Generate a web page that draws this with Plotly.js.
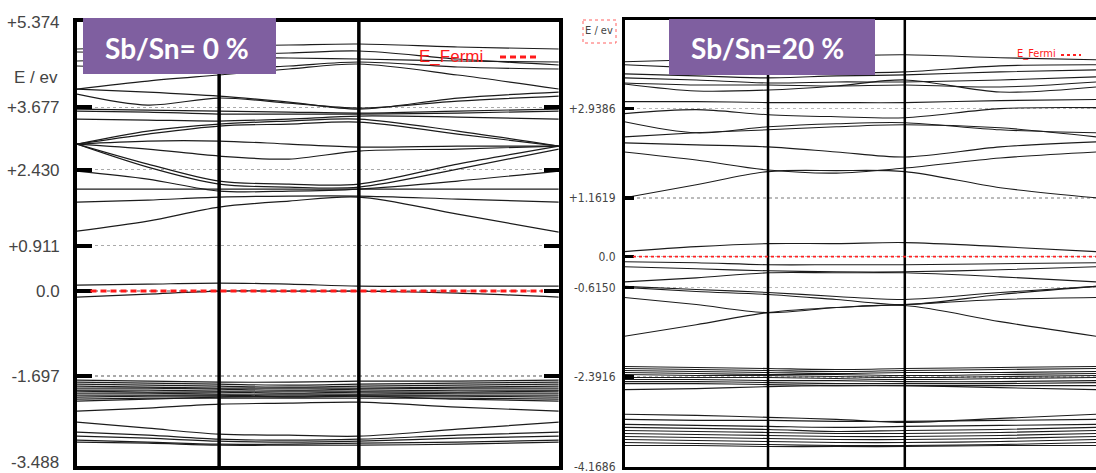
<!DOCTYPE html>
<html><head><meta charset="utf-8">
<script src="https://cdn.plot.ly/plotly-3.0.1.min.js"></script>
<style>html,body{margin:0;padding:0;background:#fff;overflow:hidden}#chart{width:1096px;height:473px}</style>
</head><body><div id="chart"></div>
<script>
// k-path sample positions (fraction of path length)
const kLeft  = [0, 0.147, 0.295, 0.44, 0.585, 0.79, 1.0];
const kRight = [0, 0.149, 0.298, 0.44, 0.582, 0.78, 0.979];
const kNodesLeft  = [0.295, 0.585];
const kNodesRight = [0.298, 0.582];

// axis ticks (bottom-left label drawn as annotation so it stays inside the picture)
const leftTickVals  = [5.374, 3.677, 2.430, 0.911, 0.0, -1.697, -3.488];
const leftTickText  = ["+5.374", "+3.677", "+2.430", "+0.911", "0.0", "-1.697", "-3.488"];
const rightTickVals = [2.9386, 1.1619, 0.0, -0.6150, -2.3916, -4.1686];
const rightTickText = ["+2.9386", "+1.1619", "0.0", "-0.6150", "-2.3916", "-4.1686"];

// panel labels
const panelLabels = ["Sb/Sn= 0 %", "Sb/Sn=20 %"];
const axisLabel = "E / ev";
const fermiLabel = "E_Fermi";

// ---- Sb/Sn = 0 % bands (eV) ----
const leftConduction = [
  [4.84, 4.88, 4.90, 4.92, 4.94, 4.88, 4.84],
  [4.78, 4.76, 4.74, 4.76, 4.80, 4.64, 4.52],
  [4.60, 4.64, 4.68, 4.66, 4.64, 4.60, 4.58],
  [4.50, 4.46, 4.44, 4.50, 4.58, 4.48, 4.44],
  [4.04, 4.20, 4.32, 4.44, 4.54, 4.32, 4.04],
  [4.04, 3.98, 3.90, 3.78, 3.64, 3.86, 3.98],
  [3.94, 3.72, 3.86, 3.76, 3.66, 3.80, 3.90],
  [3.64, 3.62, 3.60, 3.58, 3.56, 3.60, 3.64],
  [3.60, 3.58, 3.54, 3.54, 3.54, 3.56, 3.60],
  [3.44, 3.42, 3.40, 3.44, 3.50, 3.48, 3.44],
  [2.94, 3.20, 3.34, 3.40, 3.44, 3.20, 2.90],
  [2.94, 3.14, 3.30, 3.34, 3.38, 3.14, 2.90],
  [2.94, 3.00, 3.00, 2.94, 2.88, 2.90, 2.90],
  [2.94, 2.84, 2.70, 2.64, 2.80, 2.84, 2.90],
  [2.94, 2.54, 2.20, 2.14, 2.14, 2.54, 2.90],
  [2.94, 2.48, 2.14, 2.08, 2.08, 2.44, 2.84],
  [2.04, 2.04, 2.04, 2.04, 2.04, 2.04, 2.04],
  [2.40, 2.24, 2.00, 2.00, 2.04, 2.20, 2.40],
  [1.78, 1.82, 1.88, 1.90, 1.90, 1.84, 1.78],
  [1.20, 1.40, 1.68, 1.80, 1.88, 1.54, 1.18]
];
const leftNearFermi = [
  [0.12, 0.14, 0.16, 0.14, 0.10, 0.10, 0.10],
  [-0.12, -0.06, 0.00, 0.00, 0.00, -0.04, -0.12]
];
const leftValenceDense = [
  [-1.78, -1.80, -1.82, -1.82, -1.80, -1.80, -1.78],
  [-1.82, -1.84, -1.86, -1.88, -1.86, -1.84, -1.82],
  [-1.86, -1.88, -1.90, -1.92, -1.90, -1.88, -1.86],
  [-1.90, -1.92, -1.94, -1.94, -1.94, -1.92, -1.90],
  [-1.94, -1.94, -1.96, -1.98, -1.96, -1.94, -1.94],
  [-1.98, -1.98, -2.00, -2.00, -2.00, -1.98, -1.98],
  [-2.00, -2.02, -2.02, -2.04, -2.02, -2.02, -2.00],
  [-2.04, -2.04, -2.06, -2.06, -2.06, -2.04, -2.04],
  [-2.08, -2.08, -2.08, -2.10, -2.08, -2.08, -2.08],
  [-2.12, -2.10, -2.10, -2.12, -2.10, -2.10, -2.12],
  [-2.16, -2.14, -2.14, -2.14, -2.14, -2.14, -2.16],
  [-2.20, -2.16, -2.12, -2.10, -2.10, -2.16, -2.20]
];
const leftValenceLow = [
  [-2.40, -2.34, -2.26, -2.24, -2.22, -2.32, -2.40],
  [-2.62, -2.74, -2.86, -2.88, -2.90, -2.76, -2.62],
  [-2.82, -2.88, -2.96, -2.98, -2.96, -2.88, -2.82],
  [-2.90, -2.94, -3.00, -3.02, -3.00, -2.94, -2.90],
  [-2.98, -3.02, -3.06, -3.06, -3.04, -3.02, -2.98],
  [-3.02, -3.04, -3.08, -3.08, -3.08, -3.06, -3.02]
];

// ---- Sb/Sn = 20 % bands (eV) ----
const rightConduction = [
  [3.87, 3.91, 3.97, 3.99, 4.01, 3.95, 3.91],
  [3.81, 3.75, 3.67, 3.65, 3.67, 3.79, 3.81],
  [3.63, 3.59, 3.55, 3.59, 3.61, 3.67, 3.71],
  [3.55, 3.51, 3.45, 3.47, 3.47, 3.51, 3.57],
  [3.45, 3.41, 3.41, 3.39, 3.41, 3.37, 3.47],
  [3.43, 3.29, 3.31, 3.39, 3.51, 3.27, 3.37],
  [3.08, 3.08, 3.06, 3.06, 3.06, 3.10, 3.12],
  [2.84, 2.92, 2.82, 2.78, 2.76, 2.94, 2.96],
  [2.68, 2.46, 2.58, 2.64, 2.66, 2.52, 2.46],
  [2.38, 2.46, 2.52, 2.58, 2.62, 2.56, 2.38],
  [2.26, 2.22, 2.18, 2.08, 1.98, 2.18, 2.28],
  [2.08, 1.92, 1.72, 1.66, 1.76, 1.96, 2.08],
  [1.17, 1.43, 1.69, 1.71, 1.69, 1.37, 1.17]
];
const rightNearFermi = [
  [0.10, 0.20, 0.26, 0.26, 0.28, 0.20, 0.10],
  [-0.10, -0.12, -0.16, -0.16, -0.16, -0.14, -0.12],
  [-0.20, -0.24, -0.28, -0.30, -0.30, -0.26, -0.20],
  [-0.50, -0.42, -0.32, -0.32, -0.32, -0.40, -0.50],
  [-0.59, -0.65, -0.71, -0.79, -0.85, -0.71, -0.59],
  [-0.61, -0.69, -0.75, -0.85, -0.95, -0.75, -0.59],
  [-0.81, -0.95, -1.11, -1.01, -0.95, -0.85, -0.81],
  [-1.58, -1.35, -1.11, -1.01, -0.97, -1.29, -1.58]
];
const rightValenceDense = [
  [-2.18, -2.20, -2.22, -2.24, -2.22, -2.20, -2.18],
  [-2.22, -2.24, -2.26, -2.28, -2.26, -2.24, -2.22],
  [-2.26, -2.28, -2.30, -2.32, -2.30, -2.30, -2.28],
  [-2.30, -2.32, -2.34, -2.34, -2.36, -2.34, -2.32],
  [-2.34, -2.36, -2.36, -2.38, -2.40, -2.38, -2.36],
  [-2.40, -2.40, -2.40, -2.42, -2.44, -2.42, -2.40],
  [-2.44, -2.44, -2.46, -2.46, -2.48, -2.48, -2.46],
  [-2.48, -2.48, -2.50, -2.52, -2.52, -2.52, -2.50],
  [-2.52, -2.52, -2.54, -2.56, -2.56, -2.56, -2.56],
  [-2.64, -2.62, -2.58, -2.56, -2.56, -2.60, -2.64]
];
const rightValenceLow = [
  [-3.13, -3.15, -3.19, -3.23, -3.29, -3.21, -3.13],
  [-3.23, -3.25, -3.25, -3.27, -3.27, -3.25, -3.23],
  [-3.33, -3.35, -3.37, -3.39, -3.37, -3.35, -3.33],
  [-3.39, -3.41, -3.43, -3.47, -3.45, -3.43, -3.39],
  [-3.45, -3.47, -3.49, -3.51, -3.51, -3.49, -3.45],
  [-3.51, -3.53, -3.55, -3.57, -3.57, -3.55, -3.51],
  [-3.57, -3.59, -3.61, -3.63, -3.63, -3.61, -3.57],
  [-3.63, -3.65, -3.67, -3.69, -3.69, -3.67, -3.63],
  [-3.69, -3.71, -3.73, -3.75, -3.75, -3.73, -3.69],
  [-3.75, -3.75, -3.77, -3.77, -3.77, -3.75, -3.75]
];

// ---- build ----
const W = 1096, H = 473;
const px = v => v / W;
const py = v => 1 - v / H;

const traces = [];
function addBands(groups, k, xa, ya, width) {
  groups.forEach(g => g.forEach(b => traces.push({
    x: k, y: b, xaxis: xa, yaxis: ya, type: 'scatter', mode: 'lines',
    line: {color: '#1c1c1c', width: width, shape: 'spline', smoothing: 0.9},
    hoverinfo: 'skip', showlegend: false
  })));
}
addBands([leftConduction, leftNearFermi, leftValenceDense, leftValenceLow], kLeft, 'x', 'y', 1.2);
addBands([rightConduction, rightNearFermi, rightValenceDense, rightValenceLow], kRight, 'x2', 'y2', 1.1);

const shapes = [];
kNodesLeft.forEach(k => shapes.push({type: 'line', xref: 'x', yref: 'y domain', x0: k, x1: k, y0: 0, y1: 1, line: {color: '#000', width: 3.5}}));
kNodesRight.forEach(k => shapes.push({type: 'line', xref: 'x2', yref: 'y2 domain', x0: k, x1: k, y0: 0, y1: 1, line: {color: '#000', width: 2.5}}));
// Fermi levels
shapes.push({type: 'line', xref: 'x domain', yref: 'y', x0: 0.028, x1: 0.967, y0: 0, y1: 0, layer: 'above', line: {color: '#ff1a1a', width: 3, dash: '6px,4px'}});
shapes.push({type: 'line', xref: 'x2 domain', yref: 'y2', x0: 0.018, x1: 1, y0: 0, y1: 0, layer: 'above', line: {color: '#ff2020', width: 1.8, dash: '3px,3px'}});
// legend lines
shapes.push({type: 'line', xref: 'paper', yref: 'paper', x0: px(500), x1: px(538), y0: py(57), y1: py(57), line: {color: '#ff1a1a', width: 3, dash: '6px,4px'}});
shapes.push({type: 'line', xref: 'paper', yref: 'paper', x0: px(1061), x1: px(1081), y0: py(55), y1: py(55), line: {color: '#ff2020', width: 2, dash: '3px,3px'}});
// right "E / ev" dotted frame
shapes.push({type: 'rect', xref: 'paper', yref: 'paper', x0: px(583), x1: px(616), y0: py(20), y1: py(43), line: {color: '#ff6060', width: 1, dash: 'dot'}});
// purple label boxes
shapes.push({type: 'rect', xref: 'paper', yref: 'paper', x0: px(83), x1: px(276), y0: py(18), y1: py(74), fillcolor: '#7f5fa0', line: {width: 0}, layer: 'above'});
shapes.push({type: 'rect', xref: 'paper', yref: 'paper', x0: px(669), x1: px(875), y0: py(19), y1: py(75), fillcolor: '#7f5fa0', line: {width: 0}, layer: 'above'});

const ann = (x, y, text, font, extra) => Object.assign({xref: 'paper', yref: 'paper', x: px(x), y: py(y), text: text, showarrow: false, xanchor: 'center', yanchor: 'middle', font: font}, extra || {});
const narrow = 'Liberation Sans Narrow, DejaVu Sans Condensed, Arial Narrow, sans-serif';
const tickFontL = {family: 'Liberation Sans, Arial, sans-serif', size: 17, color: '#444'};
const leftTickShown = leftTickText.map((t, i) => i === leftTickText.length - 1 ? '' : t);
const annotations = [
  ann(36, 78, axisLabel, tickFontL),
  ann(61, 462, leftTickText[leftTickText.length - 1], tickFontL, {xanchor: 'right'}),
  ann(451, 56, fermiLabel, {family: 'Liberation Sans, Arial, sans-serif', size: 17, color: '#ff1a1a'}),
  ann(599, 31, axisLabel, {family: narrow, size: 11, color: '#444'}),
  ann(1036, 53, fermiLabel, {family: narrow, size: 11, color: '#ff1a1a'}),
  ann(177, 48, '<b>' + panelLabels[0] + '</b>', {family: 'Lato, Open Sans, sans-serif', size: 28, color: '#ffffff'}),
  ann(767, 48, '<b>' + panelLabels[1] + '</b>', {family: 'Lato, Open Sans, sans-serif', size: 28, color: '#ffffff'})
];

const layout = {
  width: W, height: H, margin: {l: 0, r: 0, t: 0, b: 0},
  paper_bgcolor: '#fff', plot_bgcolor: '#fff', showlegend: false,
  xaxis: {domain: [px(77), px(558.8)], range: [0, 1], anchor: 'y', showline: true, mirror: true, linewidth: 4, linecolor: '#000',
          showticklabels: false, ticks: '', showgrid: false, zeroline: false, fixedrange: true},
  yaxis: {domain: [py(466), py(22)], range: [-3.496, 5.38], anchor: 'x', tickmode: 'array', tickvals: leftTickVals, ticktext: leftTickShown,
          ticks: 'inside', ticklen: 15, tickwidth: 4, tickcolor: '#000', showline: true, linewidth: 4, linecolor: '#000', mirror: 'ticks',
          showgrid: true, griddash: 'dot', gridcolor: '#aaaaaa', gridwidth: 1.3, zeroline: false, ticklabelstandoff: 10,
          ticklabeloverflow: 'allow', tickfont: tickFontL, fixedrange: true},
  xaxis2: {domain: [px(624.5), 1], range: [0, 0.979], anchor: 'y2', showline: true, mirror: true, linewidth: 3, linecolor: '#000',
           showticklabels: false, ticks: '', showgrid: false, zeroline: false, fixedrange: true},
  yaxis2: {domain: [py(467), py(20)], range: [-4.176, 4.70], anchor: 'x2', tickmode: 'array', tickvals: rightTickVals, ticktext: rightTickText,
           ticks: 'inside', ticklen: 9, tickwidth: 3.5, tickcolor: '#000', showline: true, linewidth: 2.5, linecolor: '#000', mirror: false,
           showgrid: true, griddash: 'dot', gridcolor: '#bbbbbb', gridwidth: 1.5, zeroline: false, ticklabelstandoff: 4,
           ticklabeloverflow: 'allow',
           tickfont: {family: narrow, size: 12, color: '#444'}, fixedrange: true},
  shapes: shapes, annotations: annotations
};
Plotly.newPlot('chart', traces, layout, {displayModeBar: false, staticPlot: true});
</script>
</body></html>
